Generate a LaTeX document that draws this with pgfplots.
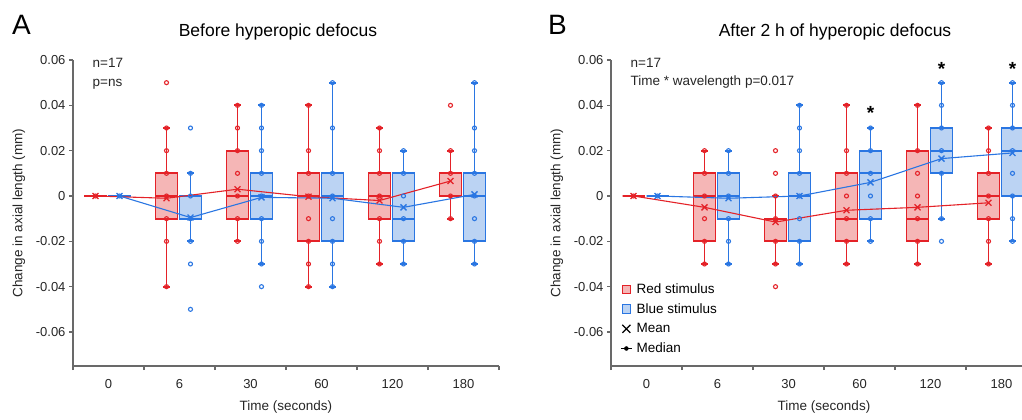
\documentclass[border=0pt]{standalone}
\usepackage{fontspec}
\setmainfont{Liberation Sans}
\usepackage{pgfplots}
\usepackage{pgfplotstable}
\pgfplotsset{compat=1.18}

\definecolor{redline}{RGB}{228,34,40}
\definecolor{redfill}{RGB}{245,182,182}
\definecolor{blueline}{RGB}{42,118,226}
\definecolor{bluefill}{RGB}{187,211,243}
\definecolor{axgray}{RGB}{105,105,105}

% box: colour, draw position, lower whisker, lower quartile, median, upper quartile, upper whisker
\newcommand{\bx}[7]{%
  \addplot[bxs, draw=#1line, x filter/.expression={x+(#2)}] coordinates {(0,#6) (0,#7)};
  \addplot[bxs, draw=#1line, x filter/.expression={x+(#2)}] coordinates {(0,#4) (0,#3)};
  \addplot[bxs, draw=#1line, x filter/.expression={x+(#2)}] coordinates {(-0.05,#7) (0.05,#7)};
  \addplot[bxs, draw=#1line, x filter/.expression={x+(#2)}] coordinates {(-0.05,#3) (0.05,#3)};
  \addplot[bxs, draw=#1line, fill=#1fill, x filter/.expression={x+(#2)}]
    coordinates {(-0.155,#4) (0.155,#4) (0.155,#6) (-0.155,#6)} -- cycle;
  \addplot[bxs, draw=#1line, x filter/.expression={x+(#2)}] coordinates {(-0.155,#5) (0.155,#5)};
}

% individual values (c = time index)
\pgfplotstableread{
c v
0 0
1 0.05
1 0.03
1 0.02
1 0.01
1 0
1 -0.01
1 -0.02
1 -0.04
2 0.04
2 0.03
2 0.02
2 0.01
2 0
2 -0.01
2 -0.02
3 0.04
3 0.02
3 0.01
3 0
3 -0.01
3 -0.02
3 -0.03
3 -0.04
4 0.03
4 0.02
4 0.01
4 0
4 -0.01
4 -0.02
4 -0.03
5 0.04
5 0.02
5 0.01
5 0
5 -0.01
}\ptsAred
\pgfplotstableread{
c v
0 0
1 0.03
1 0.01
1 0
1 -0.01
1 -0.02
1 -0.03
1 -0.05
2 0.04
2 0.03
2 0.02
2 0.01
2 0
2 -0.01
2 -0.02
2 -0.03
2 -0.04
3 0.05
3 0.03
3 0.01
3 0
3 -0.01
3 -0.02
3 -0.03
3 -0.04
4 0.02
4 0.01
4 0
4 -0.01
4 -0.02
4 -0.03
5 0.05
5 0.03
5 0.02
5 0.01
5 0
5 -0.01
5 -0.02
5 -0.03
}\ptsAblue
\pgfplotstableread{
c v
0 0
1 0.02
1 0.01
1 0
1 -0.01
1 -0.02
1 -0.03
2 0.02
2 0.01
2 0
2 -0.01
2 -0.02
2 -0.03
2 -0.04
3 0.04
3 0.02
3 0.01
3 0
3 -0.01
3 -0.02
3 -0.03
4 0.04
4 0.02
4 0.01
4 0
4 -0.01
4 -0.02
4 -0.03
5 0.03
5 0.02
5 0.01
5 0
5 -0.01
5 -0.02
5 -0.03
}\ptsBred
\pgfplotstableread{
c v
0 0
1 0.02
1 0.01
1 0
1 -0.01
1 -0.02
1 -0.03
2 0.04
2 0.03
2 0.02
2 0.01
2 0
2 -0.01
2 -0.02
2 -0.03
3 0.03
3 0.02
3 0.01
3 0
3 -0.01
3 -0.02
4 0.05
4 0.04
4 0.03
4 0.02
4 0.01
4 -0.01
4 -0.02
5 0.05
5 0.04
5 0.03
5 0.02
5 0.01
5 0
5 -0.01
5 -0.02
}\ptsBblue

% means
\pgfplotstableread{
c m
0 0
1 -0.001
2 0.003
3 -0.0003
4 -0.002
5 0.0066
}\meanAred
\pgfplotstableread{
c m
0 0
1 -0.0095
2 -0.0006
3 -0.001
4 -0.005
5 0.0007
}\meanAblue
\pgfplotstableread{
c m
0 0
1 -0.005
2 -0.0115
3 -0.0063
4 -0.005
5 -0.003
}\meanBred
\pgfplotstableread{
c m
0 0
1 -0.001
2 0
3 0.006
4 0.0165
5 0.019
}\meanBblue

\pgfplotsset{
  panel/.style={
    overlay,
    scale only axis, width=426pt, height=306pt,
    anchor=south west,
    xmin=-0.5, xmax=5.5, ymin=-0.075, ymax=0.06,
    axis lines*=left,
    axis line style={axgray, line width=1.4pt},
    xtick={0,1,2,3,4,5},
    xticklabels={0,6,30,60,120,180},
    minor xtick={-0.5,0.5,1.5,2.5,3.5,4.5,5.5},
    ytick={-0.06,-0.04,-0.02,0,0.02,0.04,0.06},
    yticklabels={-0.06,-0.04,-0.02,0,0.02,0.04,0.06},
    scaled y ticks=false,
    tick align=outside,
    major tick length=4pt,
    minor tick length=4pt,
    tick style={axgray, line width=1.2pt},
    major x tick style={draw=none},
    tick label style={font=\fontsize{13}{15}\selectfont, text=black!85},
    xticklabel style={yshift=-6pt},
    xlabel={Time (seconds)},
    ylabel={Change in axial length (mm)},
    every axis x label/.style={at={(axis description cs:0.5,-0.134)}, anchor=center},
    every axis y label/.style={at={(axis description cs:-0.127,0.5)}, rotate=90, anchor=center},
    label style={font=\fontsize{13.5}{16}\selectfont, text=black!85},
    clip=false,
  },
  bxs/.style={forget plot, line width=1.8pt, mark=none},
  pts/.style={forget plot, only marks, mark=o, mark size=2pt, mark options={line width=1.1pt}},
  mn/.style={forget plot, line width=1.1pt, mark=x, mark size=4.2pt, mark options={line width=1.3pt}},
}

\begin{document}
\begin{tikzpicture}
\useasboundingbox (0pt,0pt) rectangle (1022pt,-420pt);

\node[font=\fontsize{28}{30}\selectfont] at (21.5pt,-25pt) {A};
\node[font=\fontsize{28}{30}\selectfont] at (557.5pt,-25pt) {B};
\node[font=\fontsize{17.5}{20}\selectfont] at (278pt,-32pt) {Before hyperopic defocus};
\node[font=\fontsize{17.5}{20}\selectfont] at (835pt,-32pt) {After 2 h of hyperopic defocus};

% ---------------- panel A
\begin{axis}[panel, at={(73pt,-366pt)}]
\bx{red}{-0.1831}{0}{0}{0}{0}{0}
\bx{red}{0.8169}{-0.04}{-0.01}{0}{0.01}{0.03}
\bx{red}{1.8169}{-0.02}{-0.01}{0}{0.02}{0.04}
\bx{red}{2.8169}{-0.04}{-0.02}{0}{0.01}{0.04}
\bx{red}{3.8169}{-0.03}{-0.01}{0}{0.01}{0.03}
\bx{red}{4.8169}{-0.01}{0}{0}{0.01}{0.02}
\bx{blue}{0.1549}{0}{0}{0}{0}{0}
\bx{blue}{1.1549}{-0.02}{-0.01}{-0.01}{0}{0.01}
\bx{blue}{2.1549}{-0.03}{-0.01}{0}{0.01}{0.04}
\bx{blue}{3.1549}{-0.04}{-0.02}{0}{0.01}{0.05}
\bx{blue}{4.1549}{-0.03}{-0.02}{-0.01}{0.01}{0.02}
\bx{blue}{5.1549}{-0.03}{-0.02}{0}{0.01}{0.05}
\addplot[pts, redline] table[x expr=\thisrow{c}-0.1831, y=v] {\ptsAred};
\addplot[pts, blueline] table[x expr=\thisrow{c}+0.1549, y=v] {\ptsAblue};
\addplot[mn, redline] table[x expr=\thisrow{c}-0.1831, y=m] {\meanAred};
\addplot[mn, blueline] table[x expr=\thisrow{c}+0.1549, y=m] {\meanAblue};
\node[anchor=west, font=\fontsize{13.5}{16}\selectfont, text=black!85] at (rel axis cs:0.038,0.99) {n=17};
\node[anchor=west, font=\fontsize{13.5}{16}\selectfont, text=black!85] at (rel axis cs:0.038,0.922) {p=ns};
\end{axis}

% ---------------- panel B
\begin{axis}[panel, at={(611pt,-366pt)},
  legend style={at={(rel axis cs:0.022,0.2745)}, anchor=north west, draw=none, fill=none,
    font=\fontsize{13.5}{16}\selectfont, row sep=5.6pt, column sep=3pt, inner sep=0pt,
    nodes={inner sep=1.5pt}},
  legend cell align=left]
\addlegendimage{legend image code/.code={\draw[draw=redline, fill=redfill, line width=1pt] (0pt,-4.3pt) rectangle (8.6pt,4.3pt);}}
\addlegendentry{Red stimulus}
\addlegendimage{legend image code/.code={\draw[draw=blueline, fill=bluefill, line width=1pt] (0pt,-4.3pt) rectangle (8.6pt,4.3pt);}}
\addlegendentry{Blue stimulus}
\addlegendimage{legend image code/.code={\draw[black, line width=1.1pt] (0.3pt,-4pt)--(8.3pt,4pt) (0.3pt,4pt)--(8.3pt,-4pt);}}
\addlegendentry{Mean}
\addlegendimage{legend image code/.code={\draw[black, line width=1pt] (-1pt,0pt)--(9.6pt,0pt); \fill[black] (4.3pt,0pt) circle (2pt);}}
\addlegendentry{Median}
\bx{red}{-0.1831}{0}{0}{0}{0}{0}
\bx{red}{0.8169}{-0.03}{-0.02}{0}{0.01}{0.02}
\bx{red}{1.8169}{-0.03}{-0.02}{-0.01}{-0.01}{0}
\bx{red}{2.8169}{-0.03}{-0.02}{-0.01}{0.01}{0.04}
\bx{red}{3.8169}{-0.03}{-0.02}{-0.01}{0.02}{0.04}
\bx{red}{4.8169}{-0.03}{-0.01}{0}{0.01}{0.03}
\bx{blue}{0.1549}{0}{0}{0}{0}{0}
\bx{blue}{1.1549}{-0.03}{-0.01}{0}{0.01}{0.02}
\bx{blue}{2.1549}{-0.03}{-0.02}{0}{0.01}{0.04}
\bx{blue}{3.1549}{-0.02}{-0.01}{0.01}{0.02}{0.03}
\bx{blue}{4.1549}{-0.01}{0.01}{0.02}{0.03}{0.05}
\bx{blue}{5.1549}{-0.02}{0}{0.02}{0.03}{0.05}
\addplot[pts, redline] table[x expr=\thisrow{c}-0.1831, y=v] {\ptsBred};
\addplot[pts, blueline] table[x expr=\thisrow{c}+0.1549, y=v] {\ptsBblue};
\addplot[mn, redline] table[x expr=\thisrow{c}-0.1831, y=m] {\meanBred};
\addplot[mn, blueline] table[x expr=\thisrow{c}+0.1549, y=m] {\meanBblue};
\node[anchor=west, font=\fontsize{13.5}{16}\selectfont, text=black!85] at (rel axis cs:0.038,0.99) {n=17};
\node[anchor=west, font=\fontsize{13.5}{16}\selectfont, text=black!85] at (rel axis cs:0.038,0.928) {Time * wavelength p=0.017};
\node[font=\bfseries\fontsize{19}{20}\selectfont, yshift=-4pt] at (axis cs:3.1549,0.0384) {*};
\node[font=\bfseries\fontsize{19}{20}\selectfont, yshift=-4pt] at (axis cs:4.1549,0.0578) {*};
\node[font=\bfseries\fontsize{19}{20}\selectfont, yshift=-4pt] at (axis cs:5.1549,0.0578) {*};
\end{axis}
\end{tikzpicture}
\end{document}
